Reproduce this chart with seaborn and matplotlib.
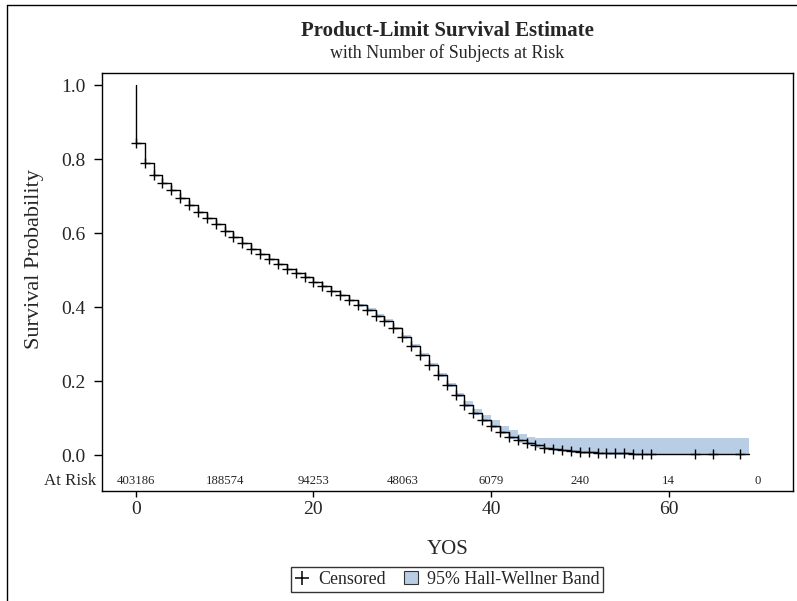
import numpy as np
import pandas as pd
import seaborn as sns
from matplotlib import pyplot as plt
from matplotlib.lines import Line2D
from matplotlib.patches import Patch
from matplotlib import transforms

# Kaplan-Meier Schaetzung
years = list(range(0, 60)) + [69]
surv = [0.843, 0.789, 0.757, 0.735, 0.716, 0.696, 0.677, 0.658, 0.642, 0.624,
        0.606, 0.591, 0.573, 0.557, 0.543, 0.530, 0.517, 0.504, 0.492, 0.481,
        0.469, 0.457, 0.445, 0.433, 0.421, 0.407, 0.393, 0.378, 0.364, 0.344,
        0.320, 0.296, 0.271, 0.245, 0.217, 0.189, 0.162, 0.137, 0.114, 0.096,
        0.080, 0.063, 0.050, 0.041, 0.033, 0.027, 0.021, 0.017, 0.014, 0.012,
        0.010, 0.009, 0.008, 0.007, 0.006, 0.006, 0.005, 0.005, 0.005, 0.003,
        0.003]

# zensierte Beobachtungen
cens_years = list(range(0, 59)) + [63, 65, 68]
cens_surv = surv[:59] + [0.003, 0.003, 0.003]

# Hall-Wellner Band
band_years = list(range(25, 60)) + [69]
band_upper = [0.410, 0.397, 0.382, 0.368, 0.348, 0.325, 0.301, 0.276, 0.251, 0.223,
              0.196, 0.170, 0.146, 0.125, 0.110, 0.096, 0.080, 0.068, 0.058, 0.051,
              0.048, 0.047, 0.047, 0.047, 0.047, 0.047, 0.047, 0.047, 0.047, 0.047,
              0.047, 0.047, 0.047, 0.047, 0.047, 0.047]
band_lower = [0.404, 0.390, 0.375, 0.361, 0.341, 0.317, 0.293, 0.268, 0.241, 0.213,
              0.185, 0.157, 0.132, 0.109, 0.090, 0.074, 0.057, 0.044, 0.035, 0.027,
              0.021, 0.016, 0.012, 0.009, 0.007, 0.005, 0.004, 0.003, 0.002, 0.002,
              0.002, 0.001, 0.001, 0.001, 0.001, 0.001]

# Anzahl unter Risiko
risk_years = [0, 10, 20, 30, 40, 50, 60, 70]
at_risk = [403186, 188574, 94253, 48063, 6079, 240, 14, 0]

band_col = '#B9CDE5'

sns.set_theme(style='ticks')
plt.rcParams['font.family'] = ['Liberation Serif', 'DejaVu Serif']

fig = plt.figure(figsize=(7.97, 6.01), dpi=100)
ax = fig.add_axes([0.128, 0.183, 0.867, 0.6955])

df_km = pd.DataFrame({'YOS': [0] + years, 'S': [1.0] + surv})
df_c = pd.DataFrame({'YOS': cens_years, 'S': cens_surv})

ax.fill_between(band_years, band_lower, band_upper, step='post',
                color=band_col, linewidth=0, zorder=1)
sns.lineplot(data=df_km, x='YOS', y='S', drawstyle='steps-post',
             estimator=None, errorbar=None, sort=False,
             color='black', linewidth=1.0, ax=ax, zorder=3)
sns.scatterplot(data=df_c, x='YOS', y='S', marker='+', color='black',
                s=50, linewidth=1.0, ax=ax, zorder=4)

for x, n in zip(risk_years, at_risk):
    ax.text(x, -0.068, str(n), ha='center', va='center', fontsize=9.2)
ax.text(-0.008, -0.068, 'At Risk', transform=ax.get_yaxis_transform(),
        ha='right', va='center', fontsize=12.2)

ax.set_xlim(-3.8, 74)
ax.set_ylim(-0.096, 1.033)
ax.set_xticks([0, 20, 40, 60])
ax.set_yticks([0.0, 0.2, 0.4, 0.6, 0.8, 1.0])
ax.set_yticklabels(['0.0', '0.2', '0.4', '0.6', '0.8', '1.0'])
ax.tick_params(labelsize=14, width=1, color='black')
ax.tick_params(axis='y', length=6, pad=6)
ax.tick_params(axis='x', length=4.5, pad=2.5)
ax.set_xlabel('YOS', fontsize=15, labelpad=16)
ax.set_ylabel('Survival Probability', fontsize=16)
ax.yaxis.set_label_coords(44 / 797, 0.53,
                          transform=transforms.blended_transform_factory(fig.transFigure, ax.transData))
for sp in ax.spines.values():
    sp.set_visible(True)
    sp.set_color('black')
    sp.set_linewidth(1)

fig.text(0.561, 0.949, 'Product-Limit Survival Estimate', ha='center',
         va='center', fontsize=15, fontweight='bold')
fig.text(0.561, 0.912, 'with Number of Subjects at Risk', ha='center',
         va='center', fontsize=12.9)

handles = [Line2D([], [], marker='+', color='black', linestyle='none',
                  markersize=10, markeredgewidth=1.1),
           Patch(facecolor=band_col, edgecolor='#333333', linewidth=0.8)]
leg = fig.legend(handles, ['Censored', '95% Hall-Wellner Band'], ncol=2,
                 loc='center', bbox_to_anchor=(0.561, 0.036), fontsize=12.9,
                 frameon=True, fancybox=False, handlelength=0.8,
                 handletextpad=0.5, columnspacing=1.0, borderpad=0.22)
leg.get_frame().set_edgecolor('black')
leg.get_frame().set_linewidth(1)

# Rahmen um die Grafik
fig.add_artist(Line2D([7 / 797, 7 / 797], [0, 1 - 5 / 601], color='black', linewidth=1))
fig.add_artist(Line2D([7 / 797, 1], [1 - 5 / 601, 1 - 5 / 601], color='black', linewidth=1))

fig.savefig('out.png', dpi=100)
